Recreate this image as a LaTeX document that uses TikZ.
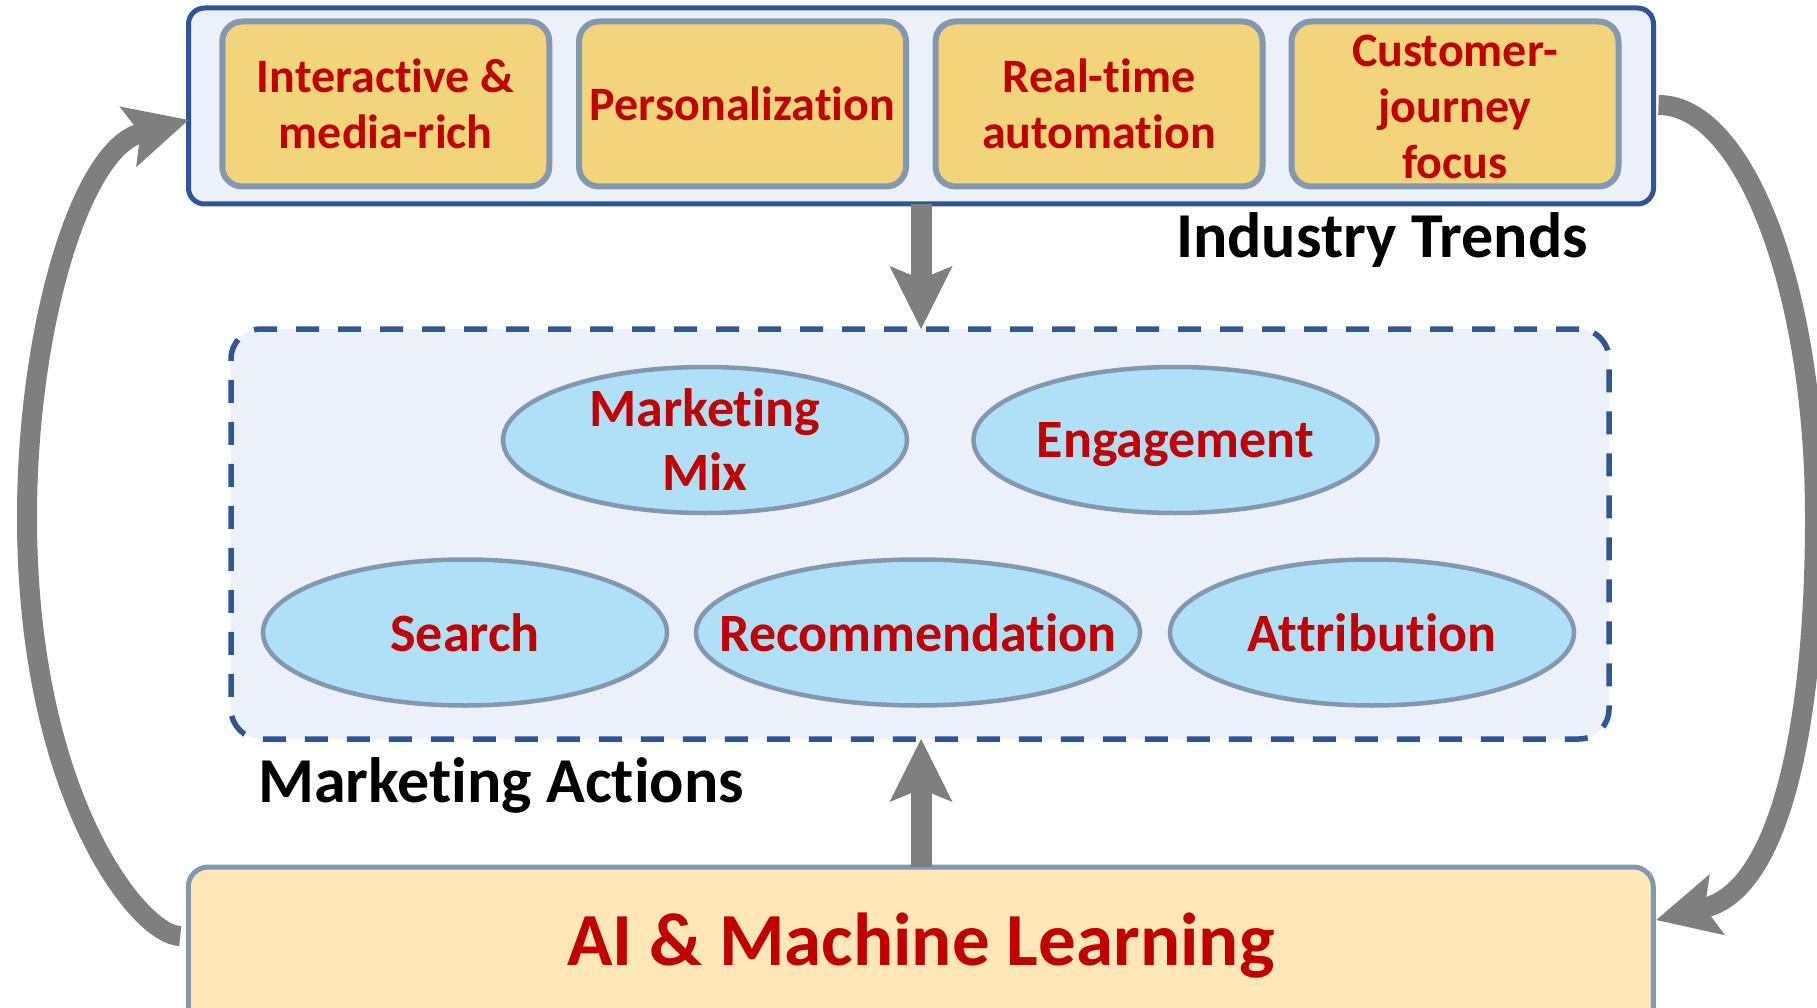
\documentclass[tikz,border=0pt]{standalone}
\usepackage{fontspec}
\setmainfont{Carlito}[Ligatures=NoCommon]
\usetikzlibrary{arrows.meta,shapes.geometric,calc}
\definecolor{trendblue}{HTML}{2F5597}
\definecolor{paleblue}{HTML}{EBF0F9}
\definecolor{gold}{HTML}{F2D57B}
\definecolor{slate}{HTML}{8497B0}
\definecolor{sky}{HTML}{B0E0F8}
\definecolor{darkred}{HTML}{C00000}
\definecolor{cream}{HTML}{FFE7B8}
\definecolor{arrowgray}{HTML}{7F7F7F}
\tikzset{
  outerbox/.style={draw=trendblue, line width=5pt, fill=paleblue, rounded corners=16pt,
    minimum width=1465pt, minimum height=196pt, inner sep=0pt, outer sep=0pt},
  trendbox/.style={draw=slate, line width=6pt, fill=gold, rounded corners=20pt,
    minimum width=327pt, minimum height=165pt, inner sep=0pt, outer sep=0pt,
    align=center, text=darkred, font=\fontsize{48}{56}\selectfont\bfseries},
  actionsbox/.style={draw=trendblue, line width=5.5pt, dash pattern=on 23pt off 19pt,
    fill=paleblue, rounded corners=30pt, minimum width=1378pt, minimum height=410pt,
    inner sep=0pt, outer sep=0pt},
  oval/.style={ellipse, draw=slate, line width=4.5pt, fill=sky, minimum height=146pt,
    inner sep=0pt, outer sep=0pt, align=center, text=darkred,
    font=\fontsize{54}{64}\selectfont\bfseries},
  aibox/.style={draw=slate, line width=5pt, fill=cream, rounded corners=20pt,
    minimum width=1465pt, minimum height=180pt, inner sep=0pt, outer sep=0pt},
  sectionlabel/.style={inner sep=0pt, text=black, font=\fontsize{64}{76}\selectfont\bfseries},
  ailabel/.style={inner sep=0pt, text=darkred, font=\fontsize{75}{90}\selectfont\bfseries},
  bigarrow/.style={draw=arrowgray, line width=21pt,
    -{Stealth[length=63pt, width=63pt, inset=13pt, line width=0pt]}},
  looparrow/.style={draw=arrowgray, line width=20pt,
    -{Stealth[length=63pt, width=63pt, inset=13pt, line width=0pt]}}
}
\begin{document}
\begin{tikzpicture}[x=1pt,y=-1pt]
\useasboundingbox (0,0) rectangle (1817,1008);
\clip (0,0) rectangle (1817,1008);

% Industry trends
\node[outerbox] (trends) at (921,106) {};
\node[trendbox] (t1) at (385.75,104) {Interactive \&\\media-rich};
\node[trendbox] (t2) at (742.5,104) {Personalization};
\node[trendbox] (t3) at (1099,104) {Real-time\\automation};
\node[trendbox] (t4) at (1455,104) {\rule{0pt}{37pt}Customer-\\journey\\focus};
\node[sectionlabel, anchor=base] (trendslabel) at (1382,258) {Industry Trends};

% Marketing actions
\node[actionsbox] (actions) at (920,534) {};
\node[oval, minimum width=404pt] (mix) at (705,440) {Marketing\\Mix};
\node[oval, minimum width=404pt, text depth=0pt] (engage) at (1175.5,440) {Engagement};
\node[oval, minimum width=404pt] (search) at (465,632.5) {Search};
\node[oval, minimum width=444pt] (recom) at (918,632.5) {\makebox[0pt]{Recommendation}};
\node[oval, minimum width=404pt] (attr) at (1372,632.5) {Attribution};
\node[sectionlabel, anchor=base west] (actionslabel) at (258,802) {Marketing Actions};

% AI box
\node[aibox] (ai) at (920.75,957) {};
\node[ailabel, anchor=base] (aitext) at (920.75,965) {AI \& Machine Learning};

% straight arrows
\draw[bigarrow] (trends.south) -- (trends.south |- actions.north);
\draw[bigarrow] (ai.north -| trends.south) -- (trends.south |- actions.south);

% loop arrows
\draw[looparrow] ($(ai.north west)+(-8,69)$) .. controls (140,936) and (27,797) .. (27,517)
  .. controls (27,330) and (80,150) .. ($(trends.west)+(0,14)$);
\draw[looparrow] ($(trends.east)+(5,-1)$) .. controls (1745,105) and (1815,290) .. (1815,517)
  .. controls (1815,725) and (1780,889) .. ($(ai.north east)+(3,53)$);
\end{tikzpicture}
\end{document}
